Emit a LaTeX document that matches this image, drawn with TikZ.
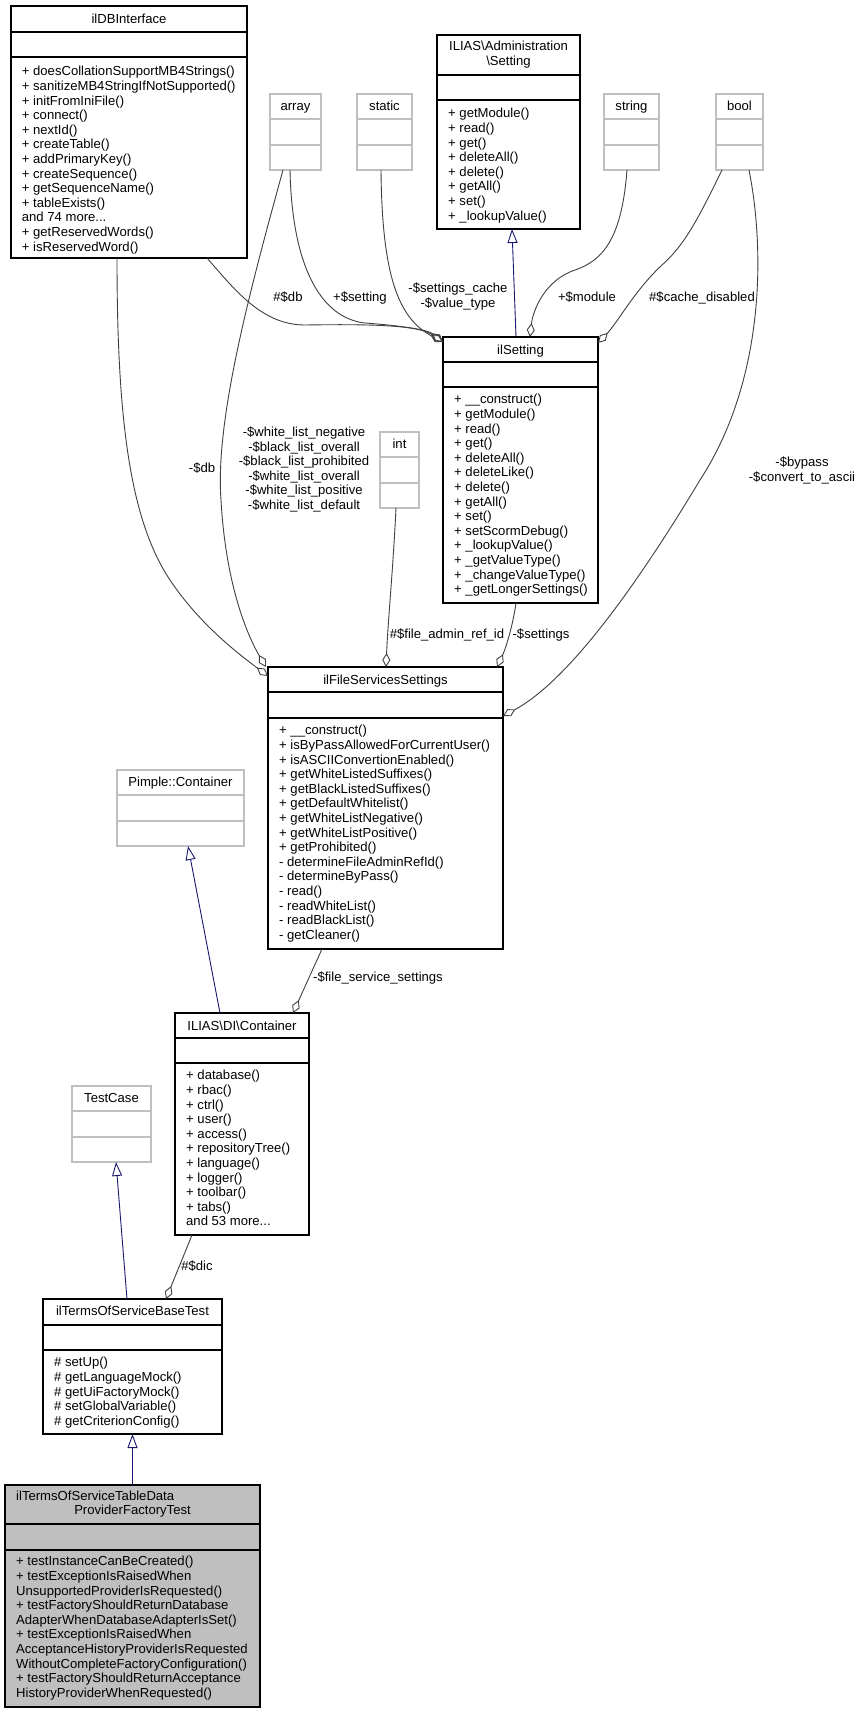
\documentclass[tikz,border=0pt]{standalone}
\usepackage{fontspec}
\setmainfont{Liberation Sans}
\usetikzlibrary{arrows.meta,calc}
\definecolor{edgegray}{HTML}{404040}
\definecolor{navyblue}{HTML}{191970}
\definecolor{boxgray}{HTML}{BFBFBF}
\newcommand\fsz{\fontsize{13.1}{14.6}\selectfont}
% #1 name, #2 node style, #3 divider style, #4 x1, #5 y1, #6 x2, #7 y2, #8 div1, #9 div2
\newcommand\umlbox[9]{%
  \node[#2, minimum width={#6-#4}, minimum height={#7-#5}, anchor=north west] (#1) at (#4,#5) {};
  \draw[#3] (#4,#8) -- (#6,#8) (#4,#9) -- (#6,#9);
}
\begin{document}
\begin{tikzpicture}[x=1pt,y=-1pt,
  cls/.style={draw=black, line width=1.2pt, inner sep=0pt, outer sep=0pt, fill=white},
  ext/.style={draw=boxgray, line width=1.2pt, inner sep=0pt, outer sep=0pt, fill=white},
  mainbox/.style={cls, fill=boxgray},
  clsdiv/.style={draw=black, line width=1.2pt},
  extdiv/.style={draw=boxgray, line width=1.2pt},
  ttl/.style={inner sep=0pt, font=\fsz, anchor=base},
  mth/.style={inner sep=0pt, font=\fsz, align=left, anchor=north west},
  lbl/.style={inner sep=0pt, font=\fsz, align=center, anchor=north},
  assoc/.style={draw=edgegray, line width=0.9pt, -{Diamond[open, length=14pt, width=8pt]}},
  inh/.style={draw=navyblue, line width=0.9pt, -{Triangle[open, length=14pt, width=10pt]}}
]
\useasboundingbox (0,0) rectangle (861,1713);
\fill[white] (0,0) rectangle (861,1713);

% ---------- boxes ----------
\umlbox{db}{cls}{clsdiv}{11}{6}{247}{258}{32}{57}
\node[ttl] (dbt) at (129,23.7) {ilDBInterface};
\node[mth] (dbm) at (21.7,66.2) {+ doesCollationSupportMB4Strings()\\+ sanitizeMB4StringIfNotSupported()\\+ initFromIniFile()\\+ connect()\\+ nextId()\\+ createTable()\\+ addPrimaryKey()\\+ createSequence()\\+ getSequenceName()\\+ tableExists()\\and 74 more...\\+ getReservedWords()\\+ isReservedWord()};

\umlbox{array}{ext}{extdiv}{270}{94}{321}{170}{119}{145}
\node[ttl] (arrayt) at (295.5,110.7) {array};
\umlbox{static}{ext}{extdiv}{357}{94}{412}{170}{119}{145}
\node[ttl] (statict) at (384.5,110.7) {static};
\umlbox{string}{ext}{extdiv}{604}{94}{659}{170}{119}{145}
\node[ttl] (stringt) at (631.5,110.7) {string};
\umlbox{bool}{ext}{extdiv}{716}{94}{763}{170}{119}{145}
\node[ttl] (boolt) at (739.5,110.7) {bool};

\umlbox{adm}{cls}{clsdiv}{437}{35}{580}{229}{75}{100}
\node[ttl] (admt1) at (508.5,50.7) {ILIAS\textbackslash Administration};
\node[ttl] (admt2) at (508.5,65.3) {\textbackslash Setting};
\node[mth] (admm) at (448,108.2) {+ getModule()\\+ read()\\+ get()\\+ deleteAll()\\+ delete()\\+ getAll()\\+ set()\\+ \_lookupValue()};

\umlbox{set}{cls}{clsdiv}{443}{337}{598}{603}{362}{387}
\node[ttl] (sett) at (520.5,354.2) {ilSetting};
\node[mth] (setm) at (454,394.2) {+ \_\_construct()\\+ getModule()\\+ read()\\+ get()\\+ deleteAll()\\+ deleteLike()\\+ delete()\\+ getAll()\\+ set()\\+ setScormDebug()\\+ \_lookupValue()\\+ \_getValueType()\\+ \_changeValueType()\\+ \_getLongerSettings()};

\umlbox{int}{ext}{extdiv}{380}{432}{419}{508}{457}{483}
\node[ttl] (intt) at (399.5,448.7) {int};

\umlbox{fss}{cls}{clsdiv}{268}{667}{503}{949}{692}{718}
\node[ttl] (fsst) at (385.5,684.2) {ilFileServicesSettings};
\node[mth] (fssm) at (279,725.2) {+ \_\_construct()\\+ isByPassAllowedForCurrentUser()\\+ isASCIIConvertionEnabled()\\+ getWhiteListedSuffixes()\\+ getBlackListedSuffixes()\\+ getDefaultWhitelist()\\+ getWhiteListNegative()\\+ getWhiteListPositive()\\+ getProhibited()\\- determineFileAdminRefId()\\- determineByPass()\\- read()\\- readWhiteList()\\- readBlackList()\\- getCleaner()};

\umlbox{pimple}{ext}{extdiv}{117}{770}{244}{846}{795}{821}
\node[ttl] (pimplet) at (180.5,786.7) {Pimple::Container};

\umlbox{dic}{cls}{clsdiv}{175}{1013}{309}{1235}{1038}{1063}
\node[ttl] (dict) at (242,1030.2) {ILIAS\textbackslash DI\textbackslash Container};
\node[mth] (dicm) at (186,1070.2) {+ database()\\+ rbac()\\+ ctrl()\\+ user()\\+ access()\\+ repositoryTree()\\+ language()\\+ logger()\\+ toolbar()\\+ tabs()\\and 53 more...};

\umlbox{tc}{ext}{extdiv}{72}{1086}{151}{1162}{1111}{1137}
\node[ttl] (tct) at (111.5,1102.7) {TestCase};

\umlbox{base}{cls}{clsdiv}{43}{1299}{222}{1434}{1325}{1350}
\node[ttl] (baset) at (132.5,1315.7) {ilTermsOfServiceBaseTest};
\node[mth] (basem) at (54,1357.2) {\# setUp()\\\# getLanguageMock()\\\# getUiFactoryMock()\\\# setGlobalVariable()\\\# getCriterionConfig()};

\umlbox{fact}{mainbox}{clsdiv}{5}{1485}{260}{1707}{1524}{1550}
\node[inner sep=0pt, font=\fsz, anchor=base west] (factt1) at (16,1500.7) {ilTermsOfServiceTableData};
\node[ttl] (factt2) at (132.5,1514.7) {ProviderFactoryTest};
\node[mth] (factm) at (16,1556.2) {+ testInstanceCanBeCreated()\\+ testExceptionIsRaisedWhen\\UnsupportedProviderIsRequested()\\+ testFactoryShouldReturnDatabase\\AdapterWhenDatabaseAdapterIsSet()\\+ testExceptionIsRaisedWhen\\AcceptanceHistoryProviderIsRequested\\WithoutCompleteFactoryConfiguration()\\+ testFactoryShouldReturnAcceptance\\HistoryProviderWhenRequested()};

% ---------- connectors ----------
\draw[inh] ([xshift=-4.5]set.north) -- ([xshift=3.5]adm.south);

\draw[assoc] ([xshift=78]db.south) .. controls (235,290) and (262,325) .. (305,325) .. controls (370,324) and (418,325) .. ([yshift=-5]set.north west);
\draw[assoc] ([xshift=-5.5]array.south) .. controls (292,265) and (320,318) .. (365,323) .. controls (405,326) and (428,330) .. ([yshift=-5]set.north west);
\draw[assoc] ([xshift=-3.5]static.south) .. controls (382,275) and (398,318) .. ([yshift=-5]set.north west);
\draw[assoc] ([xshift=-4.5]string.south) .. controls (622,235) and (605,260) .. (575,270) .. controls (545,280) and (533,310) .. ([xshift=9.5]set.north);
\draw[assoc] ([xshift=-17.5]bool.south) .. controls (700,215) and (685,245) .. (662,265) .. controls (635,290) and (618,322) .. ([yshift=-6]set.north east);

\draw[assoc] ([xshift=9.5]bool.south) .. controls (765,250) and (765,380) .. (700,480) .. controls (640,580) and (570,680) .. ([yshift=-49]fss.north east);
\draw[assoc] ([xshift=-4.5]set.south) .. controls (512,630) and (505,650) .. ([xshift=111.5]fss.north);
\draw[assoc] ([xshift=-3.5]int.south) .. controls (393,570) and (388,620) .. ([xshift=0.5]fss.north);
\draw[assoc] ([xshift=-12.5]array.south) .. controls (250,290) and (215,420) .. (221,500) .. controls (226,590) and (250,640) .. ([xshift=-2]fss.north west);
\draw[assoc] ([xshift=-12]db.south) .. controls (117,420) and (130,520) .. (170,580) .. controls (200,625) and (240,655) .. ([yshift=-9]fss.north west);

\draw[assoc] ([xshift=-63.5]fss.south) -- ([xshift=51]dic.north);
\draw[inh] ([xshift=-22]dic.north) -- ([xshift=7.5]pimple.south);
\draw[assoc] ([xshift=-50]dic.south) -- ([xshift=33.5]base.north);
\draw[inh] ([xshift=-5.5]base.north) -- ([xshift=4.5]tc.south);
\draw[inh] (fact.north) -- (base.south);

% ---------- labels ----------
\node[lbl] (l1) at (288,291.5) {\#\$db};
\node[lbl] (l2) at (360,291.5) {+\$setting};
\node[lbl] (l3) at (458,282.5) {-\$settings\_cache\\-\$value\_type};
\node[lbl] (l4) at (587,291.5) {+\$module};
\node[lbl] (l5) at (702,291.5) {\#\$cache\_disabled};
\node[lbl] (l6) at (802,456.5) {-\$bypass\\-\$convert\_to\_ascii};
\node[lbl] (l7) at (202,462.5) {-\$db};
\node[lbl] (l8) at (304,426.5) {-\$white\_list\_negative\\-\$black\_list\_overall\\-\$black\_list\_prohibited\\-\$white\_list\_overall\\-\$white\_list\_positive\\-\$white\_list\_default};
\node[lbl] (l9) at (447,628.5) {\#\$file\_admin\_ref\_id};
\node[lbl] (l10) at (541,628.5) {-\$settings};
\node[lbl] (l11) at (378,971.5) {-\$file\_service\_settings};
\node[lbl] (l12) at (197,1260.5) {\#\$dic};
\end{tikzpicture}
\end{document}
